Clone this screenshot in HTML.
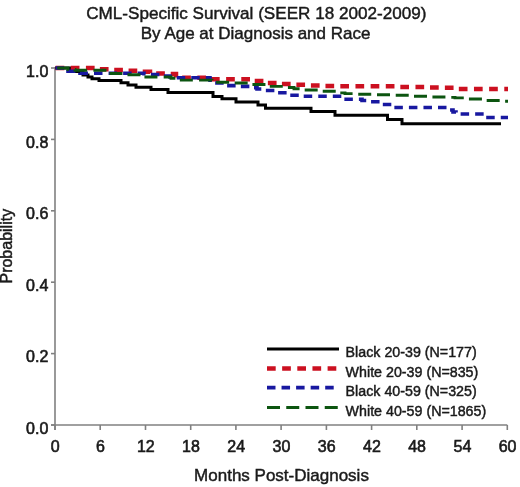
<!DOCTYPE html>
<html><head><meta charset="utf-8"><style>
html,body{margin:0;padding:0;background:#fff;}
svg{display:block;will-change:transform;font-family:"Liberation Sans",sans-serif;}
</style></head><body>
<svg width="520" height="487" viewBox="0 0 520 487">
<rect width="520" height="487" fill="#fff"/>
<g fill="#1a1a1a" stroke="#1a1a1a" stroke-width="0.45">
<text x="256.3" y="18.6" font-size="17.1" text-anchor="middle">CML-Specific Survival (SEER 18 2002-2009)</text>
<text x="255.6" y="38.7" font-size="17" text-anchor="middle">By Age at Diagnosis and Race</text>
<text x="281.5" y="481.3" font-size="17" text-anchor="middle">Months Post-Diagnosis</text>
<text transform="translate(11.9,246.2) rotate(-90)" font-size="16" text-anchor="middle">Probability</text>
</g>
<g stroke="#808080" stroke-width="1.6" fill="none">
<line x1="55" y1="67" x2="55" y2="430"/>
<line x1="51" y1="425" x2="507.3" y2="425"/>
<line x1="51" y1="425.0" x2="55" y2="425.0"/><line x1="51" y1="353.6" x2="55" y2="353.6"/><line x1="51" y1="282.2" x2="55" y2="282.2"/><line x1="51" y1="210.8" x2="55" y2="210.8"/><line x1="51" y1="139.4" x2="55" y2="139.4"/><line x1="51" y1="68.0" x2="55" y2="68.0"/><line x1="55.0" y1="425" x2="55.0" y2="430"/><line x1="100.2" y1="425" x2="100.2" y2="430"/><line x1="145.5" y1="425" x2="145.5" y2="430"/><line x1="190.7" y1="425" x2="190.7" y2="430"/><line x1="235.9" y1="425" x2="235.9" y2="430"/><line x1="281.1" y1="425" x2="281.1" y2="430"/><line x1="326.4" y1="425" x2="326.4" y2="430"/><line x1="371.6" y1="425" x2="371.6" y2="430"/><line x1="416.8" y1="425" x2="416.8" y2="430"/><line x1="462.1" y1="425" x2="462.1" y2="430"/><line x1="507.3" y1="425" x2="507.3" y2="430"/>
</g>
<g fill="#1a1a1a" font-size="16" stroke="#1a1a1a" stroke-width="0.6"><text x="48.3" y="433.5" text-anchor="end">0.0</text><text x="48.3" y="362.1" text-anchor="end">0.2</text><text x="48.3" y="290.7" text-anchor="end">0.4</text><text x="48.3" y="219.3" text-anchor="end">0.6</text><text x="48.3" y="147.9" text-anchor="end">0.8</text><text x="48.3" y="76.5" text-anchor="end">1.0</text><text x="55.3" y="452.3" text-anchor="middle">0</text><text x="100.5" y="452.3" text-anchor="middle">6</text><text x="145.8" y="452.3" text-anchor="middle">12</text><text x="191.0" y="452.3" text-anchor="middle">18</text><text x="236.2" y="452.3" text-anchor="middle">24</text><text x="281.4" y="452.3" text-anchor="middle">30</text><text x="326.7" y="452.3" text-anchor="middle">36</text><text x="371.9" y="452.3" text-anchor="middle">42</text><text x="417.1" y="452.3" text-anchor="middle">48</text><text x="462.4" y="452.3" text-anchor="middle">54</text><text x="507.6" y="452.3" text-anchor="middle">60</text></g>
<g fill="none" stroke-linejoin="miter">
<path d="M55,68 H70 V71.5 H83 V75 H88 V77 H92 V78.7 H99 V80.6 H121 V82.8 H128 V85 H136 V87.3 H151 V89.6 H168 V92.6 H213 V96.5 H222 V98.8 H236 V102 H258 V105 H265.5 V108.2 H311 V111.4 H335 V115.2 H387.5 V119.5 H402 V123.8 H501" stroke="#000" stroke-width="3"/>
<path d="M55,68 H97 V69.2 H110 V70 H125 V70.8 H138 V71.8 H150 V73.5 H165 V74.1 H176 V77.8 H210 V79.3 H251 V81 H264 V83 H278 V84.1 H294 V84.8 H308 V85.4 H323 V86 H340 V86.3 H395 V86.9 H428 V87.5 H442 V87.8 H456 V89 H508" stroke="#cc1020" stroke-width="4.5" stroke-dasharray="8.7 6.45" stroke-dashoffset="14.53"/>
<path d="M55,68 H68 V71.2 H80 V73.2 H144 V73.8 H150 V74.5 H160 V76 H170 V77 H176 V77.8 H210 V83 H224 V84.5 H227 V85.6 H240 V86.4 H252 V87.8 H257 V89 H263 V90.5 H276 V92.8 H289 V95.2 H300 V96.3 H344 V99.3 H362 V100.5 H368 V101.7 H381 V104.5 H393 V107.5 H449 V110 H453 V112 H456 V114 H486 V117.5 H508" stroke="#1818a0" stroke-width="3.6" stroke-dasharray="8.5 6.05" stroke-dashoffset="13.99"/>
<path d="M55,68 H68 V69.5 H75 V70.3 H105 V73.5 H127 V74.7 H144 V77 H171 V78.3 H177 V80.1 H212 V82.3 H232 V83 H248 V84.5 H268 V86.4 H286 V87.5 H294 V88.8 H301 V90 H320 V91.2 H338 V92.9 H345 V93.6 H356 V94.2 H375 V94.7 H393 V95.2 H411 V96.2 H429 V97 H448 V97.4 H455 V97.9 H466 V99 H484 V100.5 H503 V101.3 H508" stroke="#0c5510" stroke-width="2.9" stroke-dasharray="13 6.25" stroke-dashoffset="17.07"/>
</g>
<g fill="none">
<line x1="267" y1="349" x2="339" y2="349" stroke="#000" stroke-width="3"/>
<line x1="267" y1="368.4" x2="337" y2="368.4" stroke="#cc1020" stroke-width="4.5" stroke-dasharray="8.7 6.45"/>
<line x1="267" y1="387.6" x2="335" y2="387.6" stroke="#1818a0" stroke-width="3.6" stroke-dasharray="8.5 6.05"/>
<line x1="267" y1="407.5" x2="339" y2="407.5" stroke="#0c5510" stroke-width="2.9" stroke-dasharray="13 6.25"/>
</g>
<g fill="#1a1a1a" font-size="14.25" stroke="#1a1a1a" stroke-width="0.45">
<text x="345.6" y="357.3">Black 20-39 (N=177)</text>
<text x="345.6" y="376.8">White 20-39 (N=835)</text>
<text x="345.6" y="396.2">Black 40-59 (N=325)</text>
<text x="345.6" y="415.7">White 40-59 (N=1865)</text>
</g>
</svg>
</body></html>
